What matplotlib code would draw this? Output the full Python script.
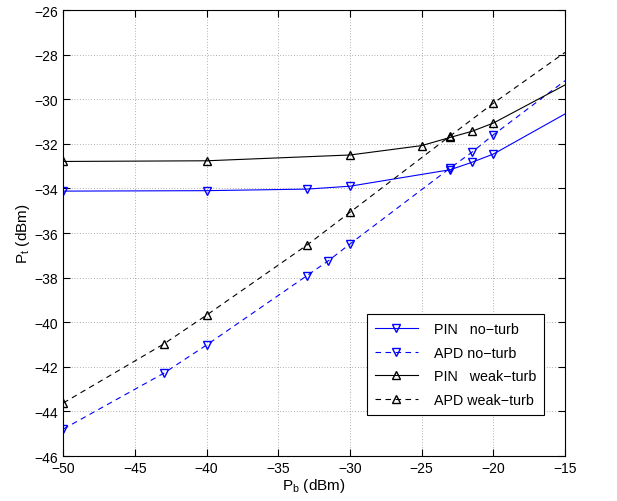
import matplotlib
matplotlib.use('Agg')
import matplotlib.pyplot as plt

plt.rcParams['font.family'] = ['Liberation Sans', 'DejaVu Sans']

# x positions (dBm) of each series, including the unmarked end at -15
pin_no_x = [-50, -40, -33, -30, -23, -21.5, -20, -15]
pin_no_y = [-34.12, -34.1, -34.03, -33.9, -33.16, -32.83, -32.46, -30.66]

apd_no_x = [-50, -43, -40, -33, -31.5, -30, -23, -21.5, -20, -15]
apd_no_y = [-44.79, -42.29, -41.02, -37.91, -37.24, -36.49, -33.08, -32.38, -31.6, -29.17]

pin_weak_x = [-50, -40, -30, -25, -23, -21.5, -20, -15]
pin_weak_y = [-32.79, -32.76, -32.5, -32.08, -31.71, -31.44, -31.07, -29.36]

apd_weak_x = [-50, -43, -40, -33, -30, -23, -20, -15]
apd_weak_y = [-43.62, -40.98, -39.68, -36.54, -35.07, -31.64, -30.18, -27.9]

labels = ['PIN   no\u2212turb', 'APD no\u2212turb', 'PIN   weak\u2212turb', 'APD weak\u2212turb']

fig = plt.figure(figsize=(6.17, 5.02), dpi=100)
ax = fig.add_axes([0.1026, 0.0896, 0.8131, 0.8884])

blue = '#0000ff'
ms = 6
# markers on all points except the final (-15) one
ax.plot(pin_no_x, pin_no_y, '-', color=blue, lw=0.8, marker='v', ms=ms, mfc='none',
        markevery=list(range(len(pin_no_x) - 1)), label=labels[0])
ax.plot(apd_no_x, apd_no_y, '--', color=blue, lw=0.8, marker='v', ms=ms, mfc='none',
        dashes=(5, 4), markevery=list(range(len(apd_no_x) - 1)), label=labels[1])
ax.plot(pin_weak_x, pin_weak_y, '-', color='k', lw=0.8, marker='^', ms=ms, mfc='none',
        markevery=list(range(len(pin_weak_x) - 1)), label=labels[2])
ax.plot(apd_weak_x, apd_weak_y, '--', color='k', lw=0.8, marker='^', ms=ms, mfc='none',
        dashes=(5, 4), markevery=list(range(len(apd_weak_x) - 1)), label=labels[3])

ax.set_xlim(-50, -15)
ax.set_ylim(-46, -26)
ax.set_xticks(range(-50, -14, 5))
ax.set_yticks(range(-46, -25, 2))
ax.tick_params(direction='in', top=True, right=True, labelsize=10, length=5)
ax.grid(True, linestyle=(0, (1, 3)), color='k', lw=0.5, alpha=0.6)

ax.set_xlabel(r'P$_\mathregular{b}$ (dBm)', fontsize=11, labelpad=1)
ax.set_ylabel(r'P$_\mathregular{t}$ (dBm)', fontsize=11, labelpad=2)

leg = ax.legend(loc='lower right', bbox_to_anchor=(0.958, 0.092), borderaxespad=0,
                fontsize=10.3, fancybox=False, edgecolor='k', framealpha=1,
                handlelength=3.0, labelspacing=0.68, borderpad=0.55, handletextpad=1.1)
leg.get_frame().set_linewidth(0.8)

plt.savefig('out.png', dpi=100)
